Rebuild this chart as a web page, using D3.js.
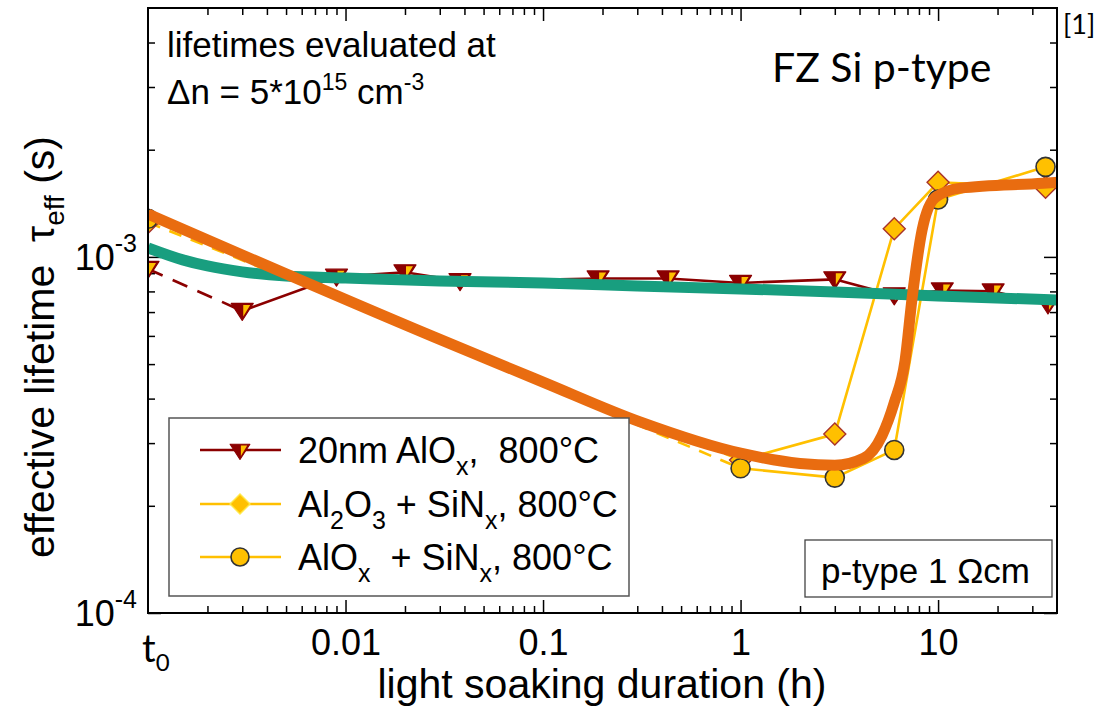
<!DOCTYPE html>
<html><head><meta charset="utf-8">
<script src="https://cdn.jsdelivr.net/npm/d3@7"></script>
<style>body{margin:0;background:#fff} svg{display:block} text{white-space:pre}</style>
</head><body><svg id="c" width="1114" height="709"></svg>
<script>
// ---------- data ----------
const xMajorTicks = [0.01, 0.1, 1, 10];
const xTickLabels = ["0.01", "0.1", "1", "10"];
const xMinorTicks = [0.002,0.003,0.004,0.005,0.006,0.007,0.008,0.009,
  0.02,0.03,0.04,0.05,0.06,0.07,0.08,0.09,
  0.2,0.3,0.4,0.5,0.6,0.7,0.8,0.9,
  2,3,4,5,6,7,8,9,20,30];
const yMajorTicks = [1e-4, 1e-3];
const yTickBase = ["10", "10"];
const yTickExp = ["-4", "-3"];
const yMinorTicks = [2e-4,3e-4,4e-4,5e-4,6e-4,7e-4,8e-4,9e-4,2e-3,3e-3,4e-3];

// 20nm AlOx, 800°C
const alOxHours = [0.001, 0.003, 0.009, 0.02, 0.038, 0.19, 0.43, 1, 3, 6, 10.5, 19, 36];
const alOxTau   = [9.25e-4, 7.05e-4, 8.8e-4, 9.05e-4, 8.55e-4, 8.7e-4, 8.7e-4, 8.45e-4, 8.65e-4, 7.8e-4, 8.05e-4, 8.0e-4, 7.35e-4];
// Al2O3 + SiNx, 800°C
const al2o3Hours = [0.001, 1, 3, 6, 10, 35];
const al2o3Tau   = [1.25e-3, 2.69e-4, 3.18e-4, 1.2e-3, 1.62e-3, 1.57e-3];
// AlOx + SiNx, 800°C
const aloxSinHours = [0.001, 1, 3, 6, 10, 35];
const aloxSinTau   = [1.28e-3, 2.55e-4, 2.4e-4, 2.87e-4, 1.45e-3, 1.79e-3];
// fitted guide curves
const tealHours = [0.001, 0.0015, 0.002, 0.003, 0.005, 0.01, 0.03, 0.1, 0.3, 1, 3, 10, 40];
const tealTau   = [1.06e-3, 9.81e-4, 9.43e-4, 9.08e-4, 8.84e-4, 8.73e-4, 8.56e-4, 8.45e-4, 8.29e-4, 8.13e-4, 7.97e-4, 7.77e-4, 7.57e-4];
const orangeHours = [0.001, 0.028, 0.1, 0.31, 1, 2, 3, 4.2, 5.2, 6.0, 6.8, 7.4, 8.3, 9.7, 13, 34, 40];
const orangeTau   = [1.32e-3, 5.96e-4, 4.45e-4, 3.44e-4, 2.81e-4, 2.63e-4, 2.6e-4, 2.72e-4, 3.15e-4, 3.9e-4, 5.1e-4, 7.72e-4, 1.19e-3, 1.47e-3, 1.56e-3, 1.61e-3, 1.62e-3];

// ---------- layout ----------
const L = 148, R = 1057, T = 8, B = 613;
const FONT = "'Liberation Sans', Arial, sans-serif";
const CAL = "Lato, 'Open Sans', sans-serif";
const DARKRED = "#8B0000", GOLD = "#FFC000", ORANGE = "#E96C10", TEAL = "#189E7F";

const svg = d3.select("#c");
svg.append("rect").attr("width", 1114).attr("height", 709).attr("fill", "#fff");

const x = d3.scaleLog().domain([0.001, 40]).range([L, R]);
const y = d3.scaleLog().domain([1e-4, 5e-3]).range([B, T]);

function styleAxis(g) {
  g.select(".domain").remove();
  g.selectAll(".tick line").attr("stroke", "#000").attr("stroke-width", 1.5);
  g.selectAll("text").attr("font-family", FONT).attr("font-size", 36).attr("fill", "#000");
}

// bottom axis
svg.append("g").attr("transform", `translate(0,${B})`)
  .call(d3.axisBottom(x).tickValues(xMajorTicks).tickSize(-13).tickPadding(16).tickFormat((d, i) => xTickLabels[i]))
  .call(styleAxis);
svg.append("g").attr("transform", `translate(0,${B})`)
  .call(d3.axisBottom(x).tickValues(xMinorTicks).tickSize(-7).tickFormat(""))
  .call(styleAxis);
// top axis
svg.append("g").attr("transform", `translate(0,${T})`)
  .call(d3.axisTop(x).tickValues(xMajorTicks).tickSize(-13).tickFormat(""))
  .call(styleAxis);
svg.append("g").attr("transform", `translate(0,${T})`)
  .call(d3.axisTop(x).tickValues(xMinorTicks).tickSize(-7).tickFormat(""))
  .call(styleAxis);
// left axis
const yl = svg.append("g").attr("transform", `translate(${L},0)`)
  .call(d3.axisLeft(y).tickValues(yMajorTicks).tickSize(-13).tickPadding(11).tickFormat(""))
  .call(styleAxis);
yl.selectAll(".tick text").each(function (d, i) {
  const t = d3.select(this).attr("dy", "0.36em");
  t.append("tspan").text(yTickBase[i]);
  t.append("tspan").attr("font-size", 25).attr("dy", "-0.75em").text(yTickExp[i]);
});
svg.append("g").attr("transform", `translate(${L},0)`)
  .call(d3.axisLeft(y).tickValues(yMinorTicks).tickSize(-7).tickFormat(""))
  .call(styleAxis);
// right axis
svg.append("g").attr("transform", `translate(${R},0)`)
  .call(d3.axisRight(y).tickValues(yMajorTicks).tickSize(-13).tickFormat(""))
  .call(styleAxis);
svg.append("g").attr("transform", `translate(${R},0)`)
  .call(d3.axisRight(y).tickValues(yMinorTicks).tickSize(-7).tickFormat(""))
  .call(styleAxis);

// t0 label
const t0 = svg.append("text").attr("x", 142).attr("y", 662)
  .attr("font-family", CAL).attr("font-size", 38).attr("fill", "#000");
t0.append("tspan").text("t");
t0.append("tspan").attr("font-size", 24).attr("dy", 9).text("0");

// axis titles
svg.append("text").attr("x", 602).attr("y", 698).attr("text-anchor", "middle")
  .attr("font-family", FONT).attr("font-size", 41).text("light soaking duration (h)");
const yt = svg.append("text").attr("transform", "translate(54,347) rotate(-90)").attr("text-anchor", "middle")
  .attr("font-family", FONT).attr("font-size", 41);
yt.append("tspan").text("effective lifetime  τ");
yt.append("tspan").attr("font-size", 28).attr("dy", 10).text("eff");
yt.append("tspan").attr("dy", -10).text(" (s)");

// clip
svg.append("clipPath").attr("id", "plotclip").append("rect")
  .attr("x", L).attr("y", T).attr("width", R - L).attr("height", B - T);
const plot = svg.append("g").attr("clip-path", "url(#plotclip)");

const lineGen = d3.line().x(d => x(d[0])).y(d => y(d[1]));
const zip = (a, b) => a.map((v, i) => [v, b[i]]);

const alOx = zip(alOxHours, alOxTau);
const al2o3 = zip(al2o3Hours, al2o3Tau);
const aloxSin = zip(aloxSinHours, aloxSinTau);

// yellow series lines (dashed first segment, then solid)
[aloxSin, al2o3].forEach(s => {
  plot.append("path").attr("d", lineGen(s.slice(0, 2))).attr("fill", "none")
    .attr("stroke", GOLD).attr("stroke-width", 2.6).attr("stroke-dasharray", "13,10");
  plot.append("path").attr("d", lineGen(s.slice(1))).attr("fill", "none")
    .attr("stroke", GOLD).attr("stroke-width", 2.6);
});
// dark red series line
plot.append("path").attr("d", lineGen(alOx.slice(0, 2))).attr("fill", "none")
  .attr("stroke", DARKRED).attr("stroke-width", 2.6).attr("stroke-dasharray", "16,11");
plot.append("path").attr("d", lineGen(alOx.slice(1))).attr("fill", "none")
  .attr("stroke", DARKRED).attr("stroke-width", 2.6);

// markers
const triFull = "M-11,-7.5 L11,-7.5 L0,9.5 Z";
const triHalf = "M1,-6 L8,-6 L1,5.5 Z";
function drawTri(g, px, py, s) {
  const m = g.append("g").attr("transform", `translate(${px},${py}) scale(${s})`);
  m.append("path").attr("d", triFull).attr("fill", DARKRED).attr("stroke", DARKRED).attr("stroke-width", 1.2).attr("stroke-linejoin", "round");
  m.append("path").attr("d", triHalf).attr("fill", GOLD);
}
alOx.forEach(d => drawTri(plot, x(d[0]), y(d[1]), 1));
al2o3.forEach(d => plot.append("path").attr("d", "M0,-11 L11,0 L0,11 L-11,0 Z")
  .attr("transform", `translate(${x(d[0])},${y(d[1])})`)
  .attr("fill", GOLD).attr("stroke", "#A8322A").attr("stroke-width", 1.4));
aloxSin.forEach(d => plot.append("circle").attr("cx", x(d[0])).attr("cy", y(d[1])).attr("r", 9.5)
  .attr("fill", GOLD).attr("stroke", "#333").attr("stroke-width", 1.6));

// fit curves
const curveGen = d3.line().x(d => x(d[0])).y(d => y(d[1])).curve(d3.curveMonotoneX);
plot.append("path").attr("d", curveGen(zip(tealHours, tealTau))).attr("fill", "none")
  .attr("stroke", TEAL).attr("stroke-width", 11);
plot.append("path").attr("d", curveGen(zip(orangeHours, orangeTau))).attr("fill", "none")
  .attr("stroke", ORANGE).attr("stroke-width", 11).attr("stroke-linecap", "butt");

// frame
svg.append("rect").attr("x", L).attr("y", T).attr("width", R - L).attr("height", B - T)
  .attr("fill", "none").attr("stroke", "#000").attr("stroke-width", 2);

// annotation top-left
svg.append("text").attr("x", 167).attr("y", 57).attr("font-family", FONT).attr("font-size", 35)
  .text("lifetimes evaluated at");
const dn = svg.append("text").attr("x", 167).attr("y", 104).attr("font-family", FONT).attr("font-size", 35);
dn.append("tspan").text("Δn = 5*10");
dn.append("tspan").attr("font-size", 23).attr("dy", -14).text("15");
dn.append("tspan").attr("dy", 14).text(" cm");
dn.append("tspan").attr("font-size", 23).attr("dy", -14).text("-3");

// title and reference
svg.append("text").attr("x", 772).attr("y", 82).attr("font-family", CAL)
  .attr("font-size", 41).text("FZ Si p-type");
svg.append("text").attr("x", 1063).attr("y", 34).attr("font-family", CAL)
  .attr("font-size", 27).text("[1]");

// p-type box
svg.append("rect").attr("x", 805).attr("y", 540).attr("width", 247).attr("height", 57)
  .attr("fill", "#fff").attr("stroke", "#444").attr("stroke-width", 1.3);
svg.append("text").attr("x", 821).attr("y", 583).attr("font-family", FONT).attr("font-size", 35)
  .text("p-type 1 Ωcm");

// legend
const legendLabels = [
  [["20nm AlO", 0], ["x", 1], [",  800°C", 0]],
  [["Al", 0], ["2", 1], ["O", 0], ["3", 1], [" + SiN", 0], ["x", 1], [", 800°C", 0]],
  [["AlO", 0], ["x", 1], ["  + SiN", 0], ["x", 1], [", 800°C", 0]]
];
const legendColors = [DARKRED, GOLD, GOLD];
svg.append("rect").attr("x", 169).attr("y", 418).attr("width", 460).attr("height", 178)
  .attr("fill", "#fff").attr("stroke", "#555").attr("stroke-width", 1.5);
const rowsY = [450, 504, 557];
legendLabels.forEach((segs, i) => {
  const ry = rowsY[i];
  svg.append("line").attr("x1", 200).attr("x2", 281).attr("y1", ry).attr("y2", ry)
    .attr("stroke", legendColors[i]).attr("stroke-width", 2.6);
  if (i === 0) drawTri(svg, 240, ry + 1, 0.9);
  if (i === 1) svg.append("path").attr("d", "M0,-10 L10,0 L0,10 L-10,0 Z")
    .attr("transform", `translate(240,${ry})`).attr("fill", GOLD).attr("stroke", "#FFE84A").attr("stroke-width", 1.4);
  if (i === 2) svg.append("circle").attr("cx", 240).attr("cy", ry).attr("r", 9)
    .attr("fill", GOLD).attr("stroke", "#333").attr("stroke-width", 1.6);
  const t = svg.append("text").attr("x", 298).attr("y", ry + 13).attr("font-family", FONT).attr("font-size", 36);
  let sub = 0;
  segs.forEach(([s, isSub]) => {
    const ts = t.append("tspan").text(s);
    if (isSub && !sub) { ts.attr("font-size", 25).attr("dy", 12); sub = 1; }
    else if (isSub && sub) { ts.attr("font-size", 25); }
    else if (!isSub && sub) { ts.attr("dy", -12); sub = 0; }
  });
});
</script></body></html>
